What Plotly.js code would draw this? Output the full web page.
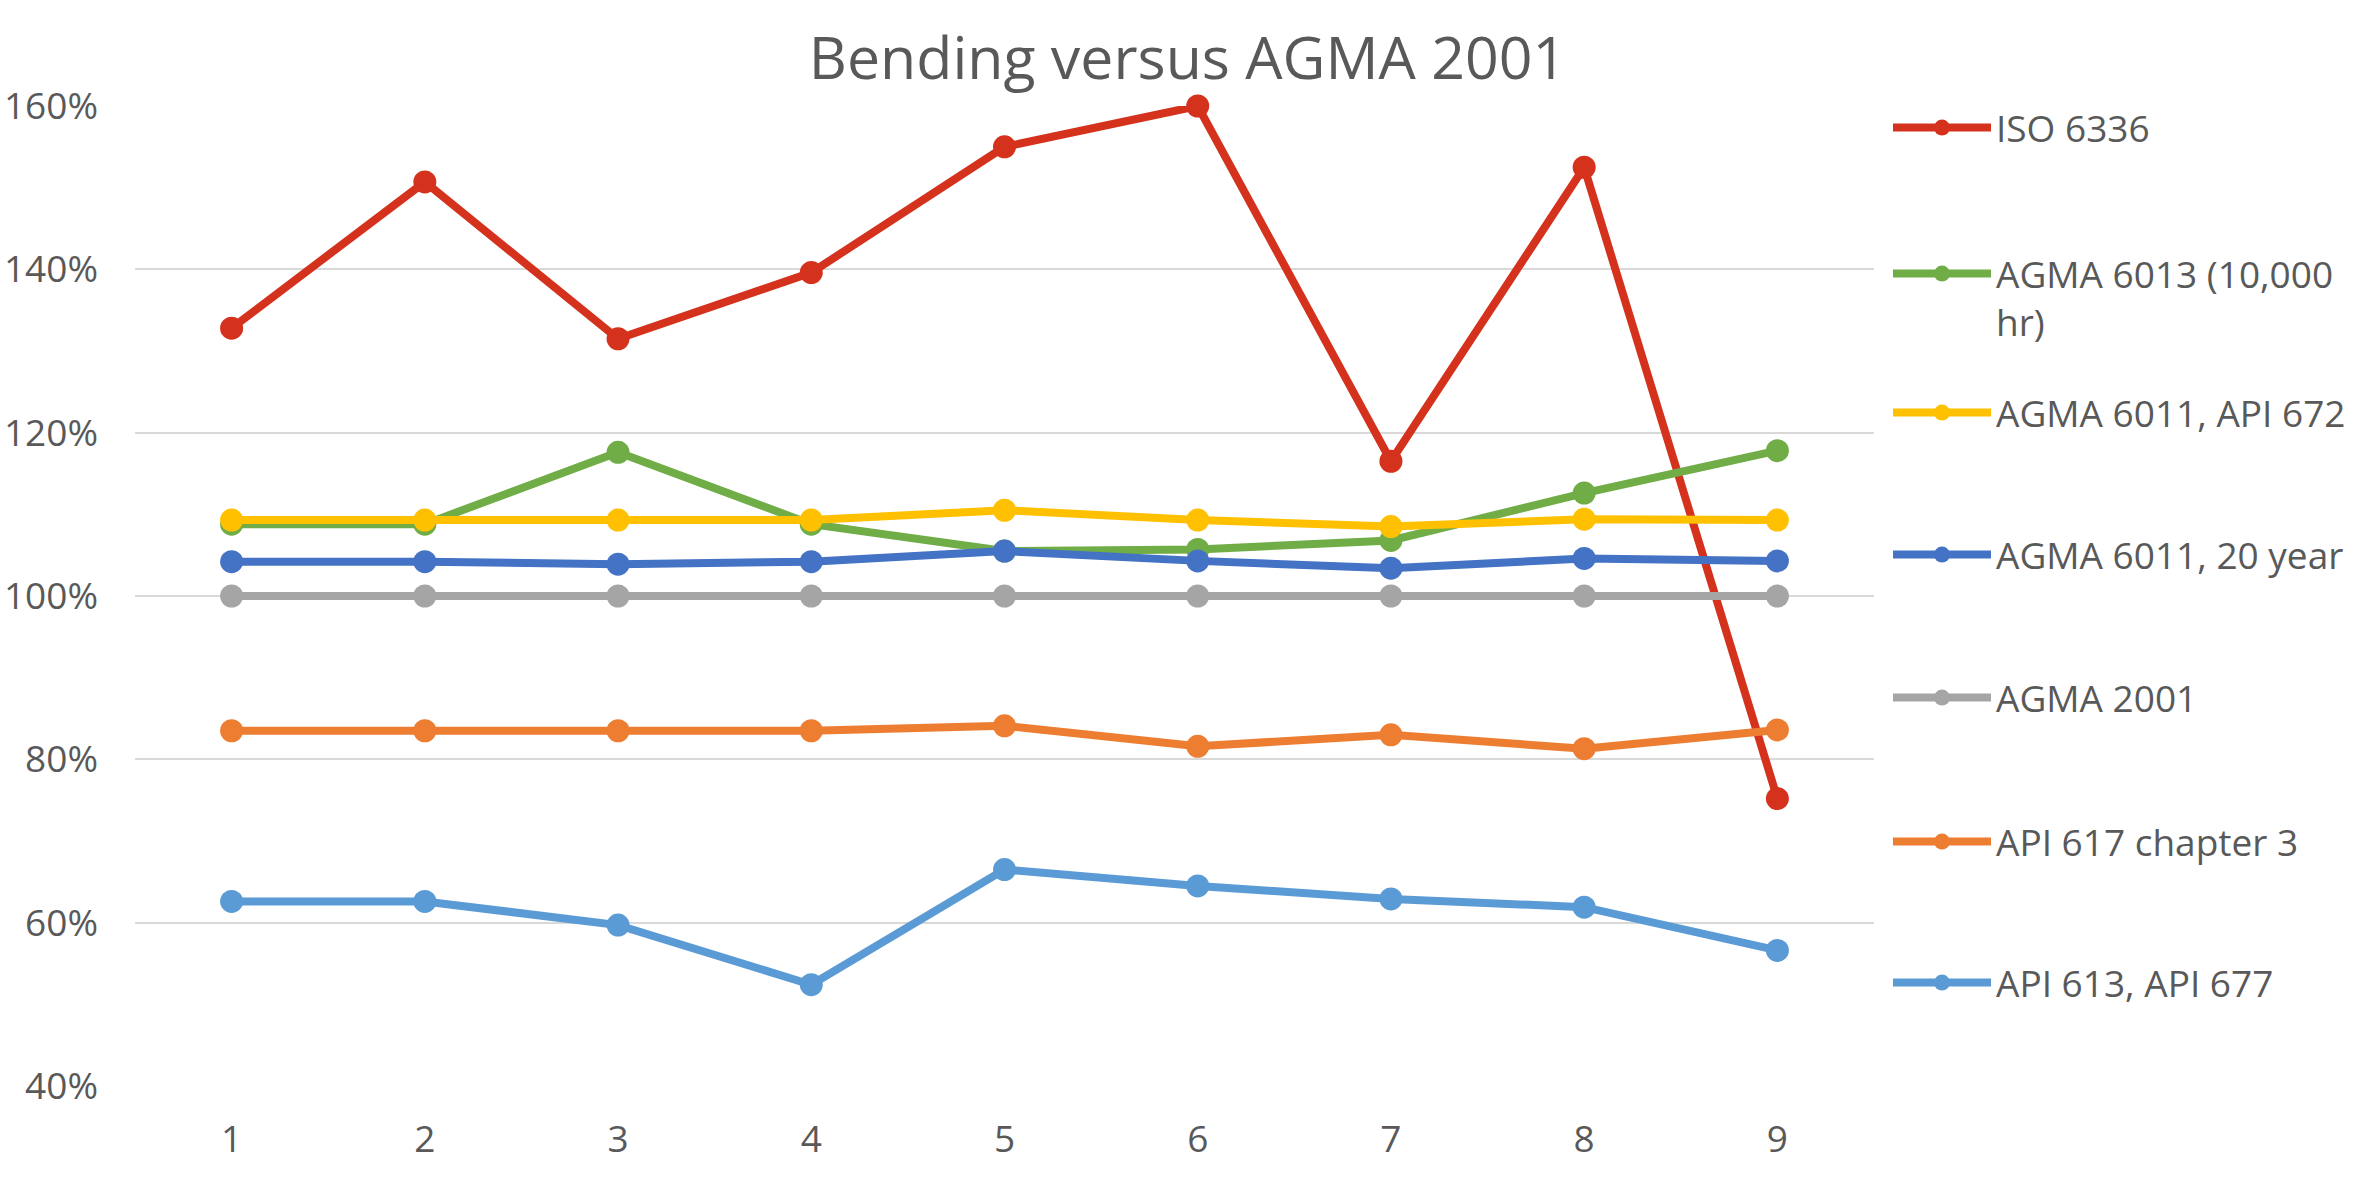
<!DOCTYPE html>
<html><head><meta charset="utf-8">
<script src="https://cdn.plot.ly/plotly-3.0.1.min.js"></script>
<style>html,body{margin:0;padding:0;background:#fff;} #chart{width:2375px;height:1200px;}</style>
</head><body><div id="chart"></div>
<script>
// ---- data ----
const categories = [1, 2, 3, 4, 5, 6, 7, 8, 9];
const seriesNames = [
  "ISO 6336",
  "AGMA 6013 (10,000<br>hr)",
  "AGMA 6011, API 672",
  "AGMA 6011, 20 year",
  "AGMA 2001",
  "API 617 chapter 3",
  "API 613, API 677"
];
const iso6336       = [1.328, 1.507, 1.315, 1.396, 1.550, 1.600, 1.165, 1.525, 0.752];
const agma6013      = [1.088, 1.088, 1.176, 1.088, 1.055, 1.057, 1.068, 1.126, 1.178];
const agma6011api672= [1.093, 1.093, 1.093, 1.093, 1.105, 1.093, 1.085, 1.094, 1.093];
const agma6011yr20  = [1.042, 1.042, 1.039, 1.042, 1.055, 1.043, 1.034, 1.046, 1.043];
const agma2001      = [1.000, 1.000, 1.000, 1.000, 1.000, 1.000, 1.000, 1.000, 1.000];
const api617ch3     = [0.835, 0.835, 0.835, 0.835, 0.841, 0.816, 0.830, 0.813, 0.836];
const api613api677  = [0.626, 0.626, 0.597, 0.524, 0.665, 0.645, 0.629, 0.619, 0.566];
const yTickVals = [0.4, 0.6, 0.8, 1.0, 1.2, 1.4, 1.6];
const yTickText = ["40%", "60%", "80%", "100%", "120%", "140%", "160%"];

// ---- styling ----
const seriesValues = [iso6336, agma6013, agma6011api672, agma6011yr20, agma2001, api617ch3, api613api677];
const colors = ["#D5321E", "#70AD47", "#FFC000", "#4472C4", "#A5A5A5", "#ED7D31", "#5B9BD5"];
const legendCenters = [128, 298, 413, 555, 698, 842, 983]; // px from top
const FONT = "Open Sans, Noto Sans, sans-serif";
const TXT = "#595959";

const traces = seriesValues.map((vals, i) => ({
  type: "scatter",
  mode: "lines+markers",
  x: categories,
  y: vals,
  name: seriesNames[i],
  legend: i === 0 ? "legend" : "legend" + (i + 1),
  line: {color: colors[i], width: 8},
  marker: {color: colors[i], size: 23, symbol: "circle"},
  cliponaxis: false
}));

const layout = {
  width: 2375, height: 1200,
  paper_bgcolor: "#ffffff", plot_bgcolor: "#ffffff",
  margin: {l: 135, r: 501, t: 106, b: 114},
  font: {family: FONT, color: TXT, size: 37},
  title: {
    text: "Bending versus AGMA 2001",
    font: {family: FONT, size: 59, color: TXT},
    x: 0.5, xref: "container", xanchor: "center",
    y: 1 - 58 / 1200, yref: "container", yanchor: "middle"
  },
  xaxis: {
    range: [0.5, 9.5],
    tickvals: categories,
    ticktext: categories.map(String),
    showgrid: false, zeroline: false, showline: false,
    ticks: "", ticklabelstandoff: 28,
    tickfont: {family: FONT, size: 37, color: TXT}
  },
  yaxis: {
    range: [0.4, 1.6],
    tickvals: yTickVals, ticktext: yTickText,
    showgrid: true, gridcolor: "#D9D9D9", gridwidth: 2,
    zeroline: false, showline: false,
    ticks: "", ticklabelstandoff: 36,
    tickfont: {family: FONT, size: 37, color: TXT}
  },
  showlegend: true
};

legendCenters.forEach((cy, i) => {
  const key = i === 0 ? "legend" : "legend" + (i + 1);
  layout[key] = {
    x: 1888 / 2375, xref: "container", xanchor: "left",
    y: 1 - cy / 1200, yref: "container", yanchor: "middle",
    bgcolor: "rgba(0,0,0,0)", borderwidth: 0,
    itemwidth: 98, valign: "top",
    font: {family: FONT, size: 37, color: TXT}
  };
});

Plotly.newPlot("chart", traces, layout, {displayModeBar: false, staticPlot: true});
</script>
</body></html>
